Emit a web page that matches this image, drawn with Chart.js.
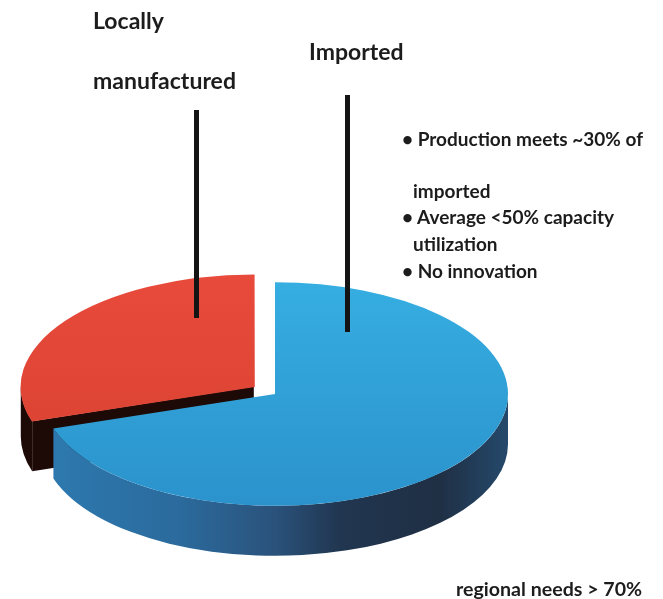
<!DOCTYPE html>
<html>
<head>
<meta charset="utf-8">
<script src="https://cdn.jsdelivr.net/npm/chart.js@4.4.0/dist/chart.umd.min.js"></script>
<style>
    body { margin: 0; background: #fff; }
    #wrap { position: relative; width: 663px; height: 599px; overflow: hidden; }
    #myChart { position: absolute; left: 0; top: 0; }
    .lbl { position: absolute; font-family: Lato, 'Open Sans', sans-serif; font-weight: bold; color: #1c1c1c; white-space: nowrap; line-height: 1; }
    .big { font-size: 23px; }
    .small { font-size: 19px; }
    .bar { position: absolute; background: #141414; width: 5px; }
</style>
</head>
<body>
<div id="wrap">
    <canvas id="myChart" width="663" height="599"></canvas>

    <div class="lbl big" style="left:93px; top:9px;">Locally</div>
    <div class="lbl big" style="left:93px; top:69px;">manufactured</div>
    <div class="lbl big" style="left:309px; top:40px;">Imported</div>
    <div class="bar" style="left:194px; top:110px; height:208px;"></div>
    <div class="bar" style="left:345px; top:95px; height:237px;"></div>

    <div class="lbl small" style="left:402px; top:129px;">• Production meets ~30% of</div>
    <div class="lbl small" style="left:413px; top:181px;">imported</div>
    <div class="lbl small" style="left:402px; top:207px;">• Average &lt;50% capacity</div>
    <div class="lbl small" style="left:413px; top:234px;">utilization</div>
    <div class="lbl small" style="left:402px; top:261px;">• No innovation</div>
    <div class="lbl small" style="left:456px; top:579px; font-size:19.6px;">regional needs &gt; 70%</div>
</div>

<script>
// datos del grafico
const categories = ['Imported', 'Locally manufactured'];
const shares = [70, 30];

// donde va la tarta "3D" en la pagina
const CX = 275, CY = 394;
const TILT = 0.48;
const DEPTH = 50;

const topColors = [['#37b1e3', '#2a8fca'], ['#ea4b3c', '#d6402f']];

// desplazamiento que Chart.js aplica a un arco con offset (ver ArcElement.draw)
function shiftOf(arc) {
    const off = (arc.options.offset || 0) / 4;
    const fix = 1 - Math.sin(Math.min(Math.PI, arc.circumference || 0));
    const d = off * (1 + fix);
    const half = (arc.startAngle + arc.endAngle) / 2;
    return { dx: Math.cos(half) * d, dy: Math.sin(half) * d * TILT };
}

function drawWalls(ctx, arc, index) {
    const s = shiftOf(arc);
    const cx = CX + s.dx, cy = CY + s.dy;
    const rx = arc.outerRadius, ry = rx * TILT;

    let fill;
    if (index === 0) {
        fill = ctx.createLinearGradient(cx - rx, 0, cx + rx, 0);
        fill.addColorStop(0, '#2d7ab0');
        fill.addColorStop(0.3, '#2b6a9c');
        fill.addColorStop(0.5, '#2a527b');
        fill.addColorStop(0.64, '#213650');
        fill.addColorStop(0.85, '#1f2f44');
        fill.addColorStop(1, '#25496b');
    } else {
        fill = '#1d0a07';
    }
    ctx.fillStyle = fill;

    // cara exterior visible (mitad de abajo)
    const a0 = Math.max(arc.startAngle, 0);
    const a1 = Math.min(arc.endAngle, Math.PI);
    if (a1 > a0) {
        ctx.beginPath();
        ctx.ellipse(cx, cy, rx, ry, 0, a0, a1, false);
        ctx.ellipse(cx, cy + DEPTH, rx, ry, 0, a1, a0, true);
        ctx.closePath();
        ctx.fill();
    }

    // cara del corte de la porcion separada
    if (index === 1) {
        const a = arc.startAngle;
        const px = cx + Math.cos(a) * rx, py = cy + Math.sin(a) * ry;
        ctx.beginPath();
        ctx.moveTo(cx, cy);
        ctx.lineTo(px, py);
        ctx.lineTo(px, py + DEPTH);
        ctx.lineTo(cx, cy + DEPTH);
        ctx.closePath();
        ctx.fill();
    }
}

const tiltPlugin = {
    id: 'tilt',
    beforeDatasetsDraw(chart) {
        const ctx = chart.ctx;
        const arcs = chart.getDatasetMeta(0).data;
        drawWalls(ctx, arcs[1], 1);
        drawWalls(ctx, arcs[0], 0);
        ctx.save();
        ctx.translate(CX, CY);
        ctx.scale(1, TILT);
        ctx.translate(-arcs[0].x, -arcs[0].y);
    },
    afterDatasetsDraw(chart) {
        chart.ctx.restore();
    }
};

const ctx = document.getElementById('myChart').getContext('2d');

new Chart(ctx, {
    type: 'pie',
    data: {
        labels: categories,
        datasets: [{
            data: shares,
            backgroundColor: (c) => {
                const area = c.chart.chartArea;
                if (!area) return topColors[c.dataIndex][0];
                const g = c.chart.ctx.createLinearGradient(0, area.top, 0, area.bottom);
                g.addColorStop(0, topColors[c.dataIndex][0]);
                g.addColorStop(1, topColors[c.dataIndex][1]);
                return g;
            },
            borderWidth: 0,
            offset: [0, 100]
        }]
    },
    options: {
        responsive: false,
        animation: false,
        events: [],
        layout: { padding: { left: 48, right: 48, top: 16, bottom: 17 } },
        plugins: {
            legend: { display: false },
            tooltip: { enabled: false },
            title: { display: false }
        }
    },
    plugins: [tiltPlugin]
});
</script>
</body>
</html>
